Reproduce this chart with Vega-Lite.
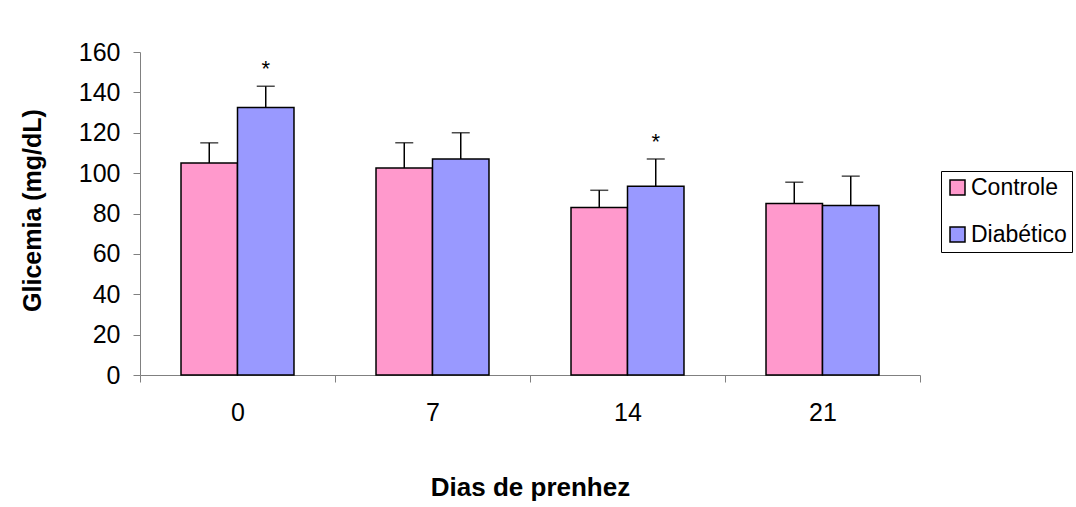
{
  "$schema": "https://vega.github.io/schema/vega-lite/v6.json",
  "width": 780,
  "height": 323,
  "autosize": "none",
  "padding": {"left": 140, "top": 52, "right": 156, "bottom": 132},
  "background": "white",
  "config": {
    "view": {"stroke": null},
    "font": "Liberation Sans",
    "axis": {"domainColor": "#808080", "tickColor": "#808080", "domainWidth": 1, "tickWidth": 1, "labelColor": "black", "titleColor": "black", "grid": false}
  },
  "data": {
    "values": [
      {"day": 0, "group": "Controle", "value": 105, "upper": 115, "sig": ""},
      {"day": 0, "group": "Diabético", "value": 132.5, "upper": 143, "sig": "*"},
      {"day": 7, "group": "Controle", "value": 102.5, "upper": 115, "sig": ""},
      {"day": 7, "group": "Diabético", "value": 107, "upper": 120, "sig": ""},
      {"day": 14, "group": "Controle", "value": 83, "upper": 91.5, "sig": ""},
      {"day": 14, "group": "Diabético", "value": 93.5, "upper": 107, "sig": "*"},
      {"day": 21, "group": "Controle", "value": 85, "upper": 95.5, "sig": ""},
      {"day": 21, "group": "Diabético", "value": 84, "upper": 98.5, "sig": ""}
    ]
  },
  "encoding": {
    "x": {
      "field": "day", "type": "ordinal",
      "scale": {"paddingInner": 0, "paddingOuter": 0},
      "axis": {
        "title": "Dias de prenhez", "labelAngle": 0, "tickBand": "extent", "tickSize": 7,
        "labelFontSize": 25, "labelPadding": 18,
        "titleFontSize": 26, "titleFontWeight": "bold", "titleBaseline": "alphabetic", "titleY": 120, "titleX": 390
      }
    },
    "xOffset": {"field": "group", "type": "nominal", "scale": {"paddingInner": 0, "paddingOuter": 0.726}}
  },
  "layer": [
    {
      "mark": {"type": "bar", "stroke": "black", "strokeWidth": 1.5},
      "encoding": {
        "y": {
          "field": "value", "type": "quantitative",
          "scale": {"domain": [0, 160], "nice": false},
          "axis": {
            "title": "Glicemia (mg/dL)", "values": [0, 20, 40, 60, 80, 100, 120, 140, 160], "tickSize": 7,
            "labelFontSize": 25, "labelPadding": 13,
            "titleFontSize": 25, "titleFontWeight": "bold", "titleBaseline": "alphabetic", "titleX": -100, "titleY": 158
          }
        },
        "color": {
          "field": "group", "type": "nominal",
          "scale": {"domain": ["Controle", "Diabético"], "range": ["#FF99CC", "#9999FF"]},
          "legend": {
            "title": null, "orient": "none", "legendX": 801, "legendY": 119,
            "strokeColor": "black", "fillColor": "white", "padding": 5,
            "symbolType": "square", "symbolSize": 225, "symbolStrokeColor": "black", "symbolStrokeWidth": 1.5, "symbolOpacity": 1,
            "labelFontSize": 23, "labelColor": "black", "rowPadding": 23, "labelOffset": 2
          }
        }
      }
    },
    {
      "mark": {"type": "rule", "color": "black", "strokeWidth": 1.5},
      "encoding": {"y": {"field": "value", "type": "quantitative"}, "y2": {"field": "upper"}}
    },
    {
      "mark": {"type": "tick", "color": "black", "thickness": 1.5, "size": 18, "orient": "horizontal"},
      "encoding": {"y": {"field": "upper", "type": "quantitative"}}
    },
    {
      "mark": {"type": "text", "fontSize": 22, "baseline": "alphabetic", "dy": -10, "color": "black"},
      "encoding": {"y": {"field": "upper", "type": "quantitative"}, "text": {"field": "sig"}}
    }
  ]
}
